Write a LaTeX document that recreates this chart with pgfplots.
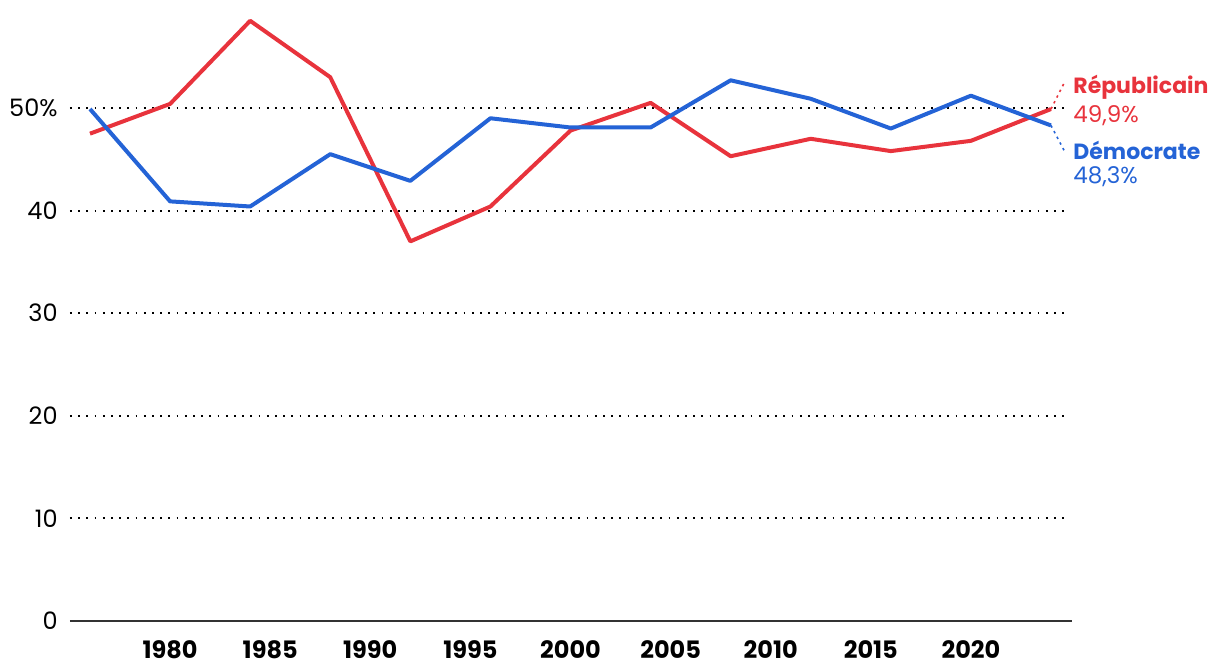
\documentclass[border=0pt]{standalone}
\usepackage{fontspec}
\setmainfont{Poppins}
\usepackage{pgfplots}
\pgfplotsset{compat=1.18}
\definecolor{rep}{HTML}{E8333C}
\definecolor{dem}{HTML}{2463D6}
\begin{document}
\begin{tikzpicture}[x=1pt,y=1pt]
\useasboundingbox (-35pt,-23.5pt) rectangle (575pt,310.5pt);
\begin{axis}[
  name=ax,
  at={(0,0)}, anchor=south west,
  scale only axis,
  width=501pt, height=307.8pt,
  xmin=1975, xmax=2025.05,
  ymin=0, ymax=60,
  axis x line*=bottom,
  axis y line=none,
  x axis line style={draw=black!80, line width=1.2pt, -},
  xtick={1980,1985,...,2020},
  x tick label style={font=\bfseries\fontsize{12}{13}\selectfont, yshift=-6.5pt},
  xticklabel={\pgfmathprintnumber[1000 sep={}]{\tick}},
  ytick={10,20,30,40,50},
  major tick length=0pt,
  /pgf/number format/assume math mode=true,
  every tick label/.append style={text=black},
  clip=false,
]
% grid lines
\foreach \yy in {10,20,30,40,50} {
  \edef\tmp{\noexpand\draw[black, line width=0.9pt, dash pattern=on 0.9pt off 3.2pt] (axis cs:1975,\yy) -- (axis cs:2024.85,\yy);}
  \tmp
}
% y labels
\foreach \yy/\lab in {0/0,10/10,20/20,30/30,40/40,50/50\%} {
  \edef\tmp{\noexpand\node[anchor=east, font=\noexpand\fontsize{12}{13}\noexpand\selectfont, inner sep=0pt] at (axis cs:1975,\yy) [xshift=-6pt] {\lab};}
  \tmp
}
\addplot[rep, line width=2pt, line join=round] coordinates {
(1976,47.5) (1980,50.4) (1984,58.5) (1988,53.0) (1992,37.0) (1996,40.4)
(2000,47.8) (2004,50.5) (2008,45.3) (2012,47.0) (2016,45.8) (2020,46.8) (2024,49.9)};
\addplot[dem, line width=2pt, line join=round] coordinates {
(1976,49.9) (1980,40.9) (1984,40.4) (1988,45.5) (1992,42.9) (1996,49.0)
(2000,48.1) (2004,48.1) (2008,52.7) (2012,50.9) (2016,48.0) (2020,51.2) (2024,48.3)};
\draw[rep, line width=0.8pt, dash pattern=on 1.2pt off 2pt] (axis cs:2024,49.9) -- (axis cs:2024.7,52.6);
\draw[dem, line width=0.8pt, dash pattern=on 1.2pt off 2pt] (axis cs:2024,48.3) -- (axis cs:2024.7,45.7);
\node[anchor=west, inner sep=0pt, text=rep, font=\bfseries\fontsize{11}{12}\selectfont] at (axis cs:2025.1,52.05) {Républicain};
\node[anchor=west, inner sep=0pt, text=rep, font=\fontsize{11.5}{12}\selectfont] at (axis cs:2025.1,49.3) {49,9\%};
\node[anchor=west, inner sep=0pt, text=dem, font=\bfseries\fontsize{11}{12}\selectfont] at (axis cs:2025.1,45.9) {Démocrate};
\node[anchor=west, inner sep=0pt, text=dem, font=\fontsize{11.5}{12}\selectfont] at (axis cs:2025.1,43.3) {48,3\%};
\end{axis}
\end{tikzpicture}
\end{document}
